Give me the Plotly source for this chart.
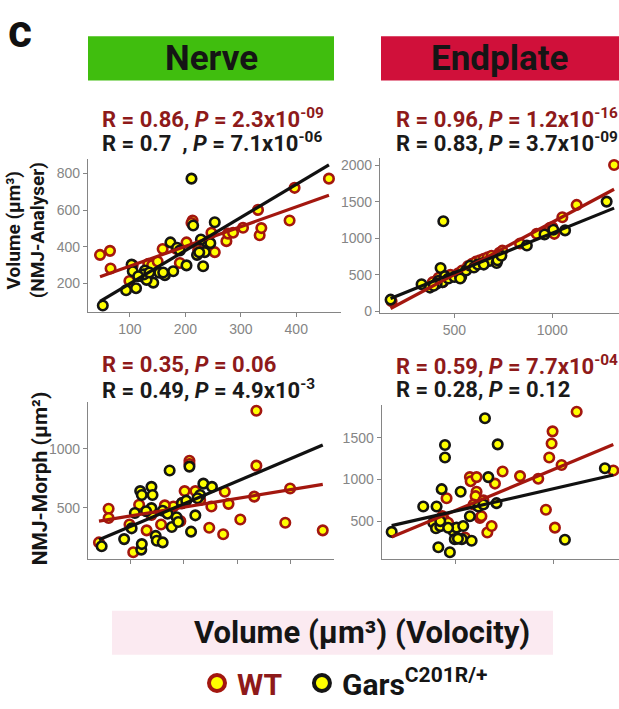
import numpy as np
import plotly.graph_objects as go

W, H = 619, 709

# ---------------- data ----------------
# Top-left: Nerve, NMJ-Analyser volume vs Volocity volume
tl_wt_x = [46, 64, 65, 99, 105, 127, 133, 140, 159, 184, 190, 202, 213, 211, 223, 253, 247, 274, 277, 286, 304, 331, 334, 337, 388, 397, 459, 130, 150]
tl_wt_y = [356, 378, 282, 214, 300, 232, 307, 300, 388, 388, 312, 424, 543, 530, 383, 371, 477, 431, 472, 477, 504, 601, 463, 502, 543, 721, 771, 250, 320]
tl_g_x = [51, 93, 111, 103, 105, 127, 142, 153, 163, 173, 178, 202, 221, 232, 235, 238, 211, 253, 214, 120, 130, 125, 185, 225, 245, 115, 135, 160, 190, 228]
tl_g_y = [81, 164, 175, 303, 267, 271, 205, 259, 246, 424, 267, 299, 356, 294, 371, 427, 771, 534, 516, 240, 220, 250, 395, 370, 420, 240, 260, 260, 380, 440]

# Top-right: Endplate, NMJ-Analyser volume vs Volocity volume
tr_wt_x = [180, 390, 420, 450, 480, 520, 570, 590, 610, 630, 650, 670, 690, 730, 745, 835, 920, 965, 988, 1000, 1010, 1051, 1124, 1315, 700, 600, 540, 440]
tr_wt_y = [140, 400, 460, 470, 500, 520, 620, 650, 680, 700, 720, 740, 760, 800, 830, 929, 1062, 1080, 1143, 1150, 1060, 1286, 1455, 2000, 700, 610, 560, 400]
tr_g_x = [175, 333, 376, 444, 430, 452, 420, 440, 470, 500, 529, 535, 560, 580, 600, 620, 648, 680, 716, 720, 740, 870, 960, 1005, 1065, 1277, 410, 395, 530, 650]
tr_g_y = [161, 371, 326, 1232, 594, 482, 420, 400, 450, 470, 482, 470, 560, 625, 600, 640, 661, 690, 661, 700, 760, 900, 1050, 1116, 1107, 1500, 380, 350, 450, 640]

# Bottom-left: Nerve, NMJ-Morph area vs Volocity volume
bl_wt_x = [42, 60, 60, 99, 106, 117, 131, 158, 181, 194, 197, 202, 211, 222, 231, 248, 252, 274, 277, 284, 306, 332, 336, 336, 390, 399, 460, 211, 140, 165]
bl_wt_y = [207, 492, 414, 359, 124, 525, 309, 359, 511, 387, 539, 641, 898, 641, 566, 331, 511, 276, 635, 533, 401, 594, 856, 1320, 373, 663, 309, 870, 440, 520]
bl_g_x = [47, 89, 103, 109, 119, 122, 121, 122, 140, 142, 140, 148, 150, 161, 161, 174, 178, 187, 197, 211, 214, 222, 231, 237, 253, 130, 170, 205, 190, 226]
bl_g_y = [174, 235, 326, 456, 641, 608, 146, 193, 677, 608, 497, 262, 221, 207, 475, 815, 337, 420, 539, 848, 298, 436, 608, 704, 677, 470, 450, 560, 380, 580]

# Bottom-right: Endplate, NMJ-Morph area vs Volocity volume
br_wt_x = [452, 440, 430, 546, 571, 575, 605, 605, 600, 622, 630, 660, 682, 699, 738, 827, 920, 959, 976, 988, 993, 1005, 1039, 1116, 1303, 640, 590, 460]
br_wt_y = [775, 520, 560, 304, 1029, 980, 1029, 853, 800, 539, 560, 363, 441, 951, 1096, 1041, 1010, 637, 1265, 1433, 1578, 422, 1174, 1814, 1108, 750, 700, 480]
br_g_x = [172, 333, 401, 444, 444, 427, 384, 398, 420, 410, 469, 486, 494, 503, 524, 537, 530, 571, 580, 614, 648, 665, 707, 713, 1056, 1260, 420, 460, 510, 640]
br_g_y = [371, 676, 676, 1414, 1265, 884, 480, 414, 440, 186, 127, 382, 284, 422, 853, 441, 284, 559, 265, 676, 1735, 1029, 716, 1422, 276, 1135, 500, 420, 290, 700]

stats_text = {
    "tl": ["R = 0.86, <i>P</i> = 2.3x10<sup>-09</sup>", "R = 0.7  , <i>P</i> = 7.1x10<sup>-06</sup>"],
    "tr": ["R = 0.96, <i>P</i> = 1.2x10<sup>-16</sup>", "R = 0.83, <i>P</i> = 3.7x10<sup>-09</sup>"],
    "bl": ["R = 0.35, <i>P</i> = 0.06", "R = 0.49, <i>P</i> = 4.9x10<sup>-3</sup>"],
    "br": ["R = 0.59, <i>P</i> = 7.7x10<sup>-04</sup>", "R = 0.28, <i>P</i> = 0.12"],
}

# ---------------- styling ----------------
WT_EDGE = "#A3170F"
WT_LINE = "#A3170F"
WT_TEXT = "#8E1A1A"
G_EDGE = "#151515"
YELLOW = "#FFFF00"
AX_COL = "#858585"
FONT = "Roboto"


def fx(p):
    return p / W


def fy(p):
    return 1 - p / H


panels = [
    dict(key="tl", n="", xd=(88, 341), yd=(162, 318.3), xr=(24.3, 480.75), yr=(45.3, 879), xdt=100, ydt=200,
         xlab=True, wt=(tl_wt_x, tl_wt_y), g=(tl_g_x, tl_g_y), ty=(120, 145), tx=100),
    dict(key="tr", n="2", xd=(380, 619), yd=(161, 319), xr=(121, 1340), yr=(-17, 2098), xdt=500, ydt=500,
         xlab=True, wt=(tr_wt_x, tr_wt_y), g=(tr_g_x, tr_g_y), ty=(120, 145), tx=394),
    dict(key="bl", n="3", xd=(88, 334), yd=(410.6, 570), xr=(21.5, 481), yr=(69, 1390), xdt=100, ydt=500,
         xlab=False, wt=(bl_wt_x, bl_wt_y), g=(bl_g_x, bl_g_y), ty=(372, 397), tx=100),
    dict(key="br", n="4", xd=(381.7, 619), yd=(412.7, 570.4), xr=(121, 1332), yr=(44, 1900), xdt=500, ydt=500,
         xlab=False, wt=(br_wt_x, br_wt_y), g=(br_g_x, br_g_y), ty=(372, 397), tx=394),
]

fig = go.Figure()
layout = {}
annotations = []

for p in panels:
    xa = "x" + p["n"]
    ya = "y" + p["n"]
    # points: WT then Gars
    for (xs, ys), edge in ((p["wt"], WT_EDGE), (p["g"], G_EDGE)):
        fig.add_trace(go.Scatter(
            x=xs, y=ys, mode="markers", xaxis=xa, yaxis=ya, showlegend=False, cliponaxis=False,
            marker=dict(size=9.5, color=YELLOW, line=dict(color=edge, width=2.6)),
        ))
    # linear fits, drawn across the full x range of the panel's data
    all_x = np.asarray(list(p["wt"][0]) + list(p["g"][0]), float)
    lx = np.array([all_x.min(), all_x.max()])
    for (xs, ys), col in ((p["wt"], WT_LINE), (p["g"], "#111111")):
        k, b = np.polyfit(np.asarray(xs, float), np.asarray(ys, float), 1)
        fig.add_trace(go.Scatter(
            x=lx, y=k * lx + b, mode="lines", xaxis=xa, yaxis=ya, showlegend=False,
            line=dict(color=col, width=3.2),
        ))
    axis_common = dict(showline=True, linecolor=AX_COL, linewidth=1.3, ticks="outside", ticklen=4,
                       tickcolor=AX_COL, tickwidth=1.2, showgrid=False, zeroline=False,
                       tickfont=dict(family="Liberation Sans", size=14, color=AX_COL))
    layout["xaxis" + p["n"]] = dict(domain=[fx(p["xd"][0]), fx(p["xd"][1])], range=list(p["xr"]),
                                    anchor=ya, dtick=p["xdt"], tick0=0, showticklabels=p["xlab"],
                                    **axis_common)
    layout["yaxis" + p["n"]] = dict(domain=[fy(p["yd"][1]), fy(p["yd"][0])], range=list(p["yr"]),
                                    anchor=xa, dtick=p["ydt"], tick0=0, **axis_common)
    for txt, yy, col in ((stats_text[p["key"]][0], p["ty"][0], WT_TEXT),
                         (stats_text[p["key"]][1], p["ty"][1], "#1A1A1A")):
        annotations.append(dict(text="<b>" + txt + "</b>", x=fx(p["tx"]), y=fy(yy),
                                showarrow=False, xanchor="left", yanchor="middle",
                                font=dict(family=FONT, size=22, color=col)))

# legend-only entries
fig.add_trace(go.Scatter(x=[None], y=[None], mode="markers",
                         name="<b><span style='color:#8E1A1A'>WT</span></b>\u00a0\u00a0",
                         marker=dict(size=16, color=YELLOW, line=dict(color=WT_EDGE, width=4))))
fig.add_trace(go.Scatter(x=[None], y=[None], mode="markers", name="<b>Gars<sup>C201R/+</sup></b>",
                         marker=dict(size=16, color=YELLOW, line=dict(color=G_EDGE, width=4))))

shapes = [
    dict(type="rect", xref="paper", yref="paper", x0=fx(88), x1=fx(334), y0=fy(82), y1=fy(37),
         fillcolor="#40BE0E", line=dict(width=0), layer="below"),
    dict(type="rect", xref="paper", yref="paper", x0=fx(381), x1=fx(619), y0=fy(82), y1=fy(37),
         fillcolor="#D0103A", line=dict(width=0), layer="below"),
    dict(type="rect", xref="paper", yref="paper", x0=fx(112), x1=fx(553), y0=fy(668), y1=fy(623),
         fillcolor="#FBEAF1", line=dict(width=0), layer="below"),
]

annotations += [
    dict(text="<b>c</b>", x=fx(6), y=fy(32), xanchor="left", yanchor="middle", showarrow=False,
         font=dict(family=FONT, size=46, color="#111111")),
    dict(text="<b>Nerve</b>", x=fx(211), y=fy(60), xanchor="center", yanchor="middle", showarrow=False,
         font=dict(family=FONT, size=35, color="#151515")),
    dict(text="<b>Endplate</b>", x=fx(500), y=fy(60), xanchor="center", yanchor="middle", showarrow=False,
         font=dict(family=FONT, size=35, color="#151515")),
    dict(text="<b>Volume (µm³)<br>(NMJ-Analyser)</b>", x=fx(26), y=fy(235), textangle=-90,
         xanchor="center", yanchor="middle", showarrow=False,
         font=dict(family=FONT, size=19, color="#151515")),
    dict(text="<b>NMJ-Morph (µm²)</b>", x=fx(40), y=fy(488), textangle=-90,
         xanchor="center", yanchor="middle", showarrow=False,
         font=dict(family=FONT, size=21, color="#151515")),
    dict(text="<b>Volume (µm³) (Volocity)</b>", x=fx(362), y=fy(645), xanchor="center", yanchor="middle",
         showarrow=False, font=dict(family=FONT, size=31, color="#151515")),
]
for a in annotations:
    a.setdefault("xref", "paper")
    a.setdefault("yref", "paper")

fig.update_layout(
    width=W, height=H, margin=dict(l=0, r=0, t=0, b=0),
    paper_bgcolor="white", plot_bgcolor="white",
    showlegend=True,
    legend=dict(orientation="h", x=fx(197), y=fy(697), xanchor="left", yanchor="middle",
                font=dict(family=FONT, size=30, color="#151515"), bgcolor="rgba(0,0,0,0)",
                itemsizing="trace"),
    shapes=shapes, annotations=annotations,
    **layout,
)

fig.write_html("out.html", config={"displayModeBar": False},
               post_script="document.body.style.margin='0px';")
